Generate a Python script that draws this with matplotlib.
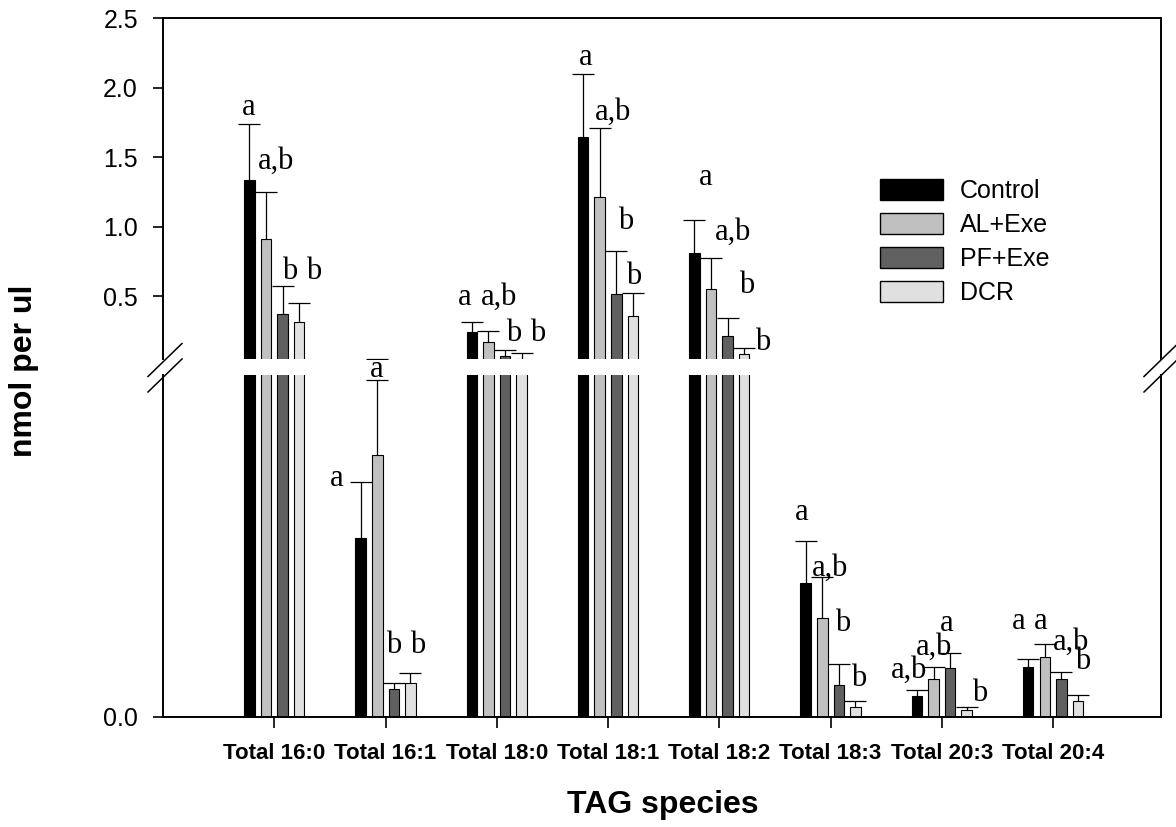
import matplotlib
matplotlib.use("Agg")
import matplotlib.pyplot as plt
import numpy as np
from matplotlib.patches import Patch
from matplotlib.lines import Line2D

plt.rcParams['font.family'] = ['Liberation Sans', 'DejaVu Sans']

species = ["Total 16:0", "Total 16:1", "Total 18:0", "Total 18:1",
           "Total 18:2", "Total 18:3", "Total 20:3", "Total 20:4"]
groups = ["Control", "AL+Exe", "PF+Exe", "DCR"]
colors = ["#000000", "#c0c0c0", "#606060", "#e0e0e0"]

# means (nmol per ul)
control = [1.338, 0.0261, 0.244, 1.644, 0.814, 0.0196, 0.0031, 0.0073]
al_exe = [0.909, 0.0383, 0.172, 1.213, 0.552, 0.0145, 0.0055, 0.0087]
pf_exe = [0.373, 0.0041, 0.069, 0.519, 0.213, 0.0047, 0.0071, 0.0056]
dcr = [0.316, 0.0050, 0.053, 0.356, 0.089, 0.0014, 0.0010, 0.0023]

# upper error (SEM)
control_sem = [0.399, 0.0082, 0.072, 0.455, 0.232, 0.0062, 0.0008, 0.0012]
al_exe_sem = [0.338, 0.0109, 0.077, 0.498, 0.223, 0.0059, 0.0018, 0.0019]
pf_exe_sem = [0.199, 0.0009, 0.043, 0.306, 0.131, 0.0031, 0.0022, 0.0010]
dcr_sem = [0.136, 0.0014, 0.040, 0.171, 0.043, 0.0009, 0.0005, 0.0009]

means = [control, al_exe, pf_exe, dcr]
sems = [control_sem, al_exe_sem, pf_exe_sem, dcr_sem]

# significance letters: (text, x, y) -- upper panel / lower panel
letters_upper = [
    ("a", -0.234, 1.86), ("a,b", 0.018, 1.47), ("b", 0.135, 0.68), ("b", 0.351, 0.68),
    ("a", 1.716, 0.495), ("a,b", 2.023, 0.495), ("b", 2.153, 0.232), ("b", 2.368, 0.232),
    ("a", 2.797, 2.218), ("a,b", 3.043, 1.823), ("b", 3.158, 1.041), ("b", 3.231, 0.644),
    ("a", 3.878, 1.357), ("a,b", 4.126, 0.962), ("b", 4.243, 0.579), ("b", 4.389, 0.172),
]
letters_lower = [
    ("a", 0.561, 0.0349), ("a", 0.922, 0.0508), ("b", 1.077, 0.0105), ("b", 1.291, 0.0105),
    ("a", 4.737, 0.0299), ("a,b", 4.993, 0.0217), ("b", 5.110, 0.0137), ("b", 5.255, 0.0057),
    ("a,b", 5.705, 0.0068), ("a,b", 5.931, 0.0102), ("a", 6.041, 0.0137), ("b", 6.336, 0.0034),
    ("a", 6.689, 0.0139), ("a", 6.889, 0.0139), ("a,b", 7.162, 0.0109), ("b", 7.270, 0.0081),
]

W, H = 1176, 827
fig = plt.figure(figsize=(W / 100, H / 100), dpi=100)

left, right = 163 / W, 1161 / W
ax_up = fig.add_axes([left, 1 - 359 / H, right - left, (359 - 18) / H])
ax_lo = fig.add_axes([left, 1 - 717 / H, right - left, (717 - 375) / H])

x = np.arange(len(species))
pitch = 0.149
width = 0.095

for ax in (ax_up, ax_lo):
    for i in range(4):
        xs = x + (i - 1.5) * pitch
        vals = np.array(means[i])
        tops = vals + np.array(sems[i])
        ax.bar(xs, vals, width, color=colors[i], edgecolor="black", linewidth=0.8, zorder=2)
        ax.vlines(xs, vals, tops, color="black", linewidth=0.9, zorder=3)
        ax.plot(xs, tops, ls="none", marker="_", markersize=16, mew=0.9, color="black", zorder=3)
    ax.set_xlim(-1.0, 7.97)
    for s in ax.spines.values():
        s.set_linewidth(1.4)
    ax.tick_params(axis="y", direction="out", length=7, width=1.2, labelsize=18, pad=11)

ax_up.set_ylim(0.05, 2.5)
ax_up.set_yticks([0.5, 1.0, 1.5, 2.0, 2.5])
ax_up.set_yticklabels(["0.5", "1.0", "1.5", "2.0", "2.5"])
ax_up.spines["bottom"].set_visible(False)
ax_up.set_xticks([])

ax_lo.set_ylim(0, 0.05)
ax_lo.set_yticks([0.0])
ax_lo.set_yticklabels(["0.0"])
ax_lo.spines["top"].set_visible(False)
ax_lo.set_xticks(x)
ax_lo.set_xticklabels(species, fontsize=16, fontweight="bold")
ax_lo.tick_params(axis="x", direction="out", length=8, width=1.2, pad=11)

for t, xx, yy in letters_upper:
    ax_up.text(xx, yy, t, ha="center", va="center", fontsize=22,
               family="Liberation Serif", clip_on=False)
for t, xx, yy in letters_lower:
    ax_lo.text(xx, yy, t, ha="center", va="center", fontsize=22,
               family="Liberation Serif", clip_on=False)

# axis break marks
for cx in (165, 1161):
    for cy in (360, 375.5):
        fig.add_artist(Line2D([(cx - 17) / W, (cx + 17) / W],
                              [1 - (cy + 16.5) / H, 1 - (cy - 16.5) / H],
                              color="black", linewidth=1.1, transform=fig.transFigure))

handles = [Patch(facecolor=c, edgecolor="black", linewidth=1.0) for c in colors]
fig.legend(handles, groups, loc="upper left", bbox_to_anchor=(880 / W, 1 - 179 / H),
           frameon=False, fontsize=18, borderpad=0, borderaxespad=0,
           handlelength=2.52, handleheight=0.9, handletextpad=0.68, labelspacing=0.4)

fig.text(663 / W, 1 - 805 / H, "TAG species", ha="center", va="center",
         fontsize=23, fontweight="bold")
fig.text(24.5 / W, 1 - 371 / H, "nmol per ul", ha="center", va="center",
         rotation=90, fontsize=23, fontweight="bold")

fig.savefig("out.png", dpi=100)
